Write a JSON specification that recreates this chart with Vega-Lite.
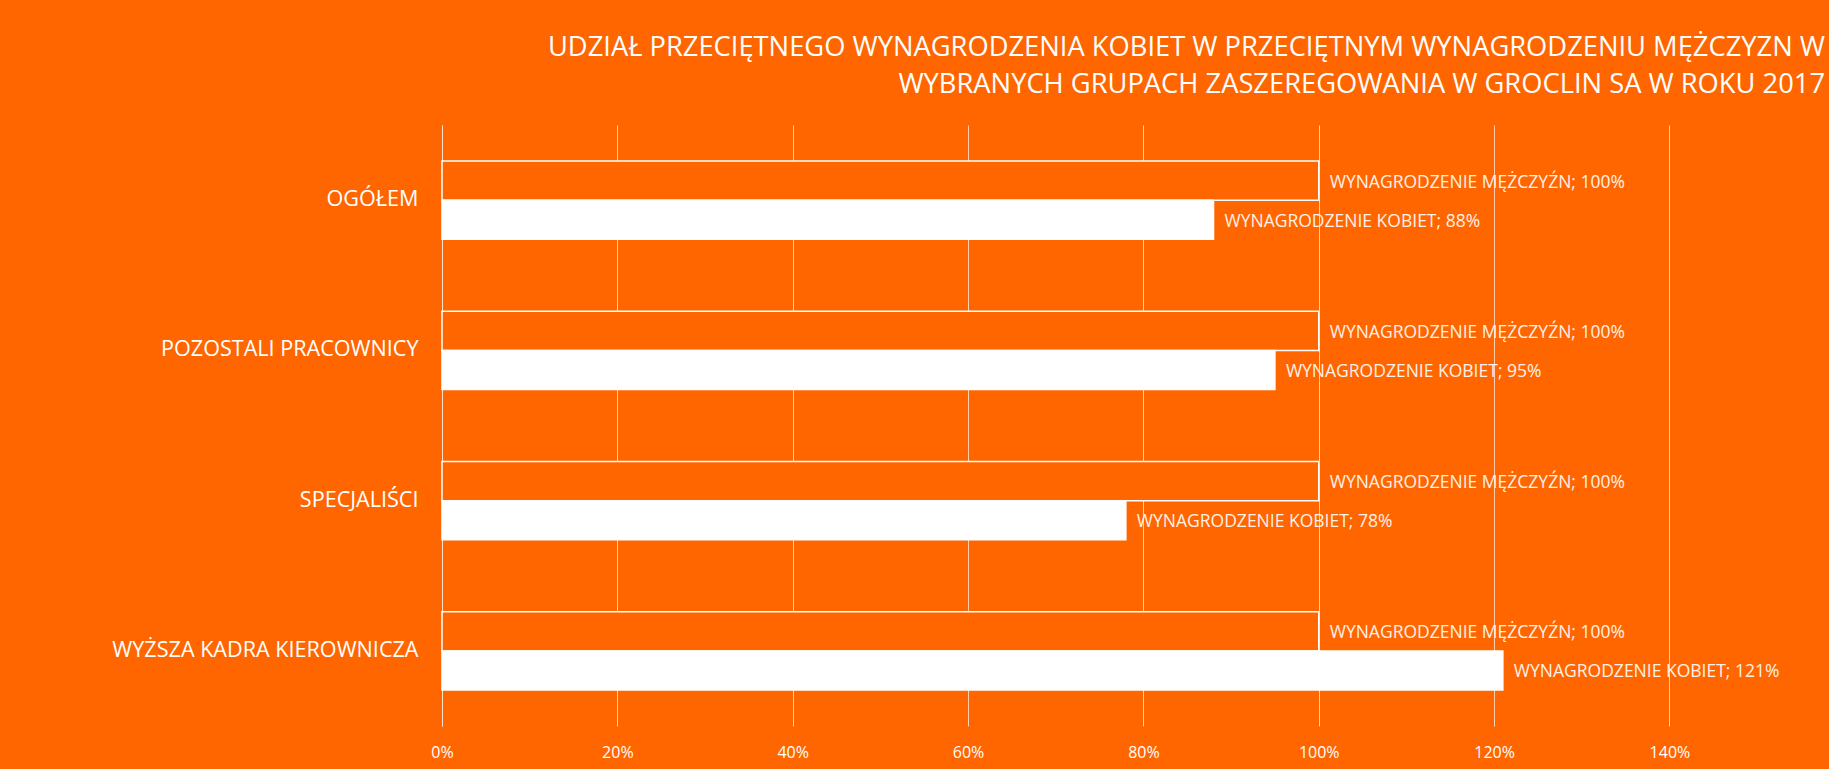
{
  "$schema": "https://vega.github.io/schema/vega-lite/v6.json",
  "autosize": {"type": "none"},
  "padding": {"left": 442, "top": 125, "right": 0, "bottom": 43},
  "width": 1387,
  "height": 601,
  "background": "#FF6600",
  "config": {"view": {"stroke": null}},
  "title": {
    "text": ["UDZIAŁ PRZECIĘTNEGO WYNAGRODZENIA KOBIET W PRZECIĘTNYM WYNAGRODZENIU MĘŻCZYZN W", "WYBRANYCH GRUPACH ZASZEREGOWANIA W GROCLIN SA W ROKU 2017"],
    "anchor": "end",
    "color": "#FFFFFF",
    "font": "Open Sans",
    "fontSize": 27.3,
    "fontWeight": "normal",
    "lineHeight": 37,
    "offset": 27,
    "dx": -4
  },
  "data": {
    "values": [
      {"grupa": "OGÓŁEM", "seria": "WYNAGRODZENIE MĘŻCZYŹN", "wartosc": 1.0, "etykieta": "WYNAGRODZENIE MĘŻCZYŹN; 100%"},
      {"grupa": "OGÓŁEM", "seria": "WYNAGRODZENIE KOBIET", "wartosc": 0.88, "etykieta": "WYNAGRODZENIE KOBIET; 88%"},
      {"grupa": "POZOSTALI PRACOWNICY", "seria": "WYNAGRODZENIE MĘŻCZYŹN", "wartosc": 1.0, "etykieta": "WYNAGRODZENIE MĘŻCZYŹN; 100%"},
      {"grupa": "POZOSTALI PRACOWNICY", "seria": "WYNAGRODZENIE KOBIET", "wartosc": 0.95, "etykieta": "WYNAGRODZENIE KOBIET; 95%"},
      {"grupa": "SPECJALIŚCI", "seria": "WYNAGRODZENIE MĘŻCZYŹN", "wartosc": 1.0, "etykieta": "WYNAGRODZENIE MĘŻCZYŹN; 100%"},
      {"grupa": "SPECJALIŚCI", "seria": "WYNAGRODZENIE KOBIET", "wartosc": 0.78, "etykieta": "WYNAGRODZENIE KOBIET; 78%"},
      {"grupa": "WYŻSZA KADRA KIEROWNICZA", "seria": "WYNAGRODZENIE MĘŻCZYŹN", "wartosc": 1.0, "etykieta": "WYNAGRODZENIE MĘŻCZYŹN; 100%"},
      {"grupa": "WYŻSZA KADRA KIEROWNICZA", "seria": "WYNAGRODZENIE KOBIET", "wartosc": 1.21, "etykieta": "WYNAGRODZENIE KOBIET; 121%"}
    ]
  },
  "encoding": {
    "y": {
      "field": "grupa",
      "type": "nominal",
      "sort": null,
      "scale": {"paddingInner": 0.48, "paddingOuter": 0.24},
      "axis": {
        "title": null,
        "domain": true,
        "domainColor": "#FFE2CC",
        "domainWidth": 1,
        "ticks": false,
        "grid": false,
        "labelPadding": 24,
        "labelLimit": 500,
        "labelFont": "Open Sans",
        "labelFontSize": 21.6,
        "labelColor": "#FFFFFF"
      }
    },
    "yOffset": {
      "field": "seria",
      "type": "nominal",
      "sort": ["WYNAGRODZENIE MĘŻCZYŹN", "WYNAGRODZENIE KOBIET"],
      "scale": {"paddingInner": 0, "paddingOuter": 0}
    },
    "x": {
      "field": "wartosc",
      "type": "quantitative",
      "scale": {"domain": [0, 1.582], "nice": false},
      "axis": {
        "title": null,
        "domain": false,
        "ticks": false,
        "values": [0, 0.2, 0.4, 0.6, 0.8, 1.0, 1.2, 1.4],
        "format": ".0%",
        "grid": true,
        "gridColor": "#FFCFAE",
        "gridWidth": 1,
        "labelFlush": false,
        "labelFont": "Open Sans",
        "labelFontSize": 16,
        "labelColor": "#FFFFFF",
        "labelPadding": 18
      }
    }
  },
  "layer": [
    {
      "mark": {"type": "bar", "stroke": "#FFFFFF", "strokeWidth": 1.5},
      "encoding": {
        "color": {
          "field": "seria",
          "type": "nominal",
          "scale": {"domain": ["WYNAGRODZENIE MĘŻCZYŹN", "WYNAGRODZENIE KOBIET"], "range": ["#FF6600", "#FFFFFF"]},
          "legend": null
        }
      }
    },
    {
      "mark": {"type": "text", "align": "left", "baseline": "middle", "dx": 11, "dy": 2, "font": "Open Sans", "fontSize": 17.5, "color": "#FFF1E8"},
      "encoding": {"text": {"field": "etykieta", "type": "nominal"}}
    }
  ]
}
